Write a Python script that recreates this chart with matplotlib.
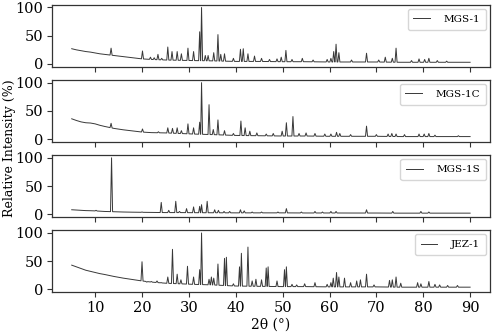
import matplotlib
matplotlib.use("Agg")
import matplotlib.pyplot as plt
import numpy as np

plt.rcParams['font.family'] = ['DejaVu Serif']

# background knots (2theta, shared) and per-sample background levels (%)
bg_x = [5, 6, 7, 8, 9, 10, 11, 12, 14, 16, 18, 20, 22, 25, 28, 31, 35,
        40, 45, 50, 55, 60, 65, 70, 75, 80, 85, 90]

samples = ["MGS-1", "MGS-1C", "MGS-1S", "JEZ-1"]

mgs1_bg = [27, 25, 23.5, 22, 21, 19.5, 18, 17, 15, 13, 11, 9, 8, 7, 6.5,
           6, 5.5, 4.5, 4.5, 4, 4, 3.5, 3.5, 3.5, 3, 3, 3, 3]
mgs1_pos = [13.4, 20.1, 21.8, 22.6, 23.4, 24.2, 25.5, 26.4, 27.5, 28.4,
            29.8, 31.0, 32.3, 32.7, 33.5, 34.1, 35.3, 36.2, 36.8, 37.6,
            39.5, 41.0, 41.6, 42.6, 44.0, 45.5, 47.2, 48.8, 49.7, 50.7,
            52.0, 54.2, 56.5, 59.5, 60.3, 60.9, 61.4, 62.0, 64.7, 67.9,
            70.5, 71.9, 73.4, 74.2, 77.5, 79.1, 80.3, 81.2, 83.0, 85.0]
mgs1_int = [28, 23, 12, 11, 17, 10, 30, 22, 22, 18,
            28, 22, 57, 100, 15, 15, 20, 52, 17, 18,
            10, 26, 27, 18, 14, 10, 8, 9, 12, 24,
            8, 10, 7, 8, 10, 22, 35, 20, 7, 19,
            7, 12, 10, 28, 6, 9, 8, 10, 6, 5]

mgs1c_bg = [36, 33, 30.5, 29, 28.5, 27, 24.5, 22.5, 19, 16.5, 14.5, 12.5,
            11.5, 11, 10, 9, 8, 6.5, 6, 5.5, 5.5, 5, 5, 5, 4.5, 4.5, 4.5, 4.5]
mgs1c_pos = [13.4, 20.1, 23.5, 25.5, 26.5, 27.5, 28.4, 29.8, 31.0, 32.3,
             32.7, 34.3, 35.2, 36.2, 37.6, 39.5, 41.1, 42.0, 43.0, 44.5,
             46.5, 48.0, 49.9, 50.8, 52.2, 53.5, 55.0, 56.9, 59.0, 60.3,
             61.5, 62.2, 64.5, 67.9, 70.0, 72.5, 73.3, 74.2, 76.0, 79.1,
             80.2, 81.2, 82.5, 87.5]
mgs1c_int = [28, 18, 13, 20, 19, 20, 15, 27, 20, 30,
             100, 61, 17, 34, 15, 10, 32, 20, 14, 11,
             9, 10, 14, 29, 40, 10, 11, 10, 9, 9,
             12, 10, 8, 23, 8, 9, 10, 9, 8, 9,
             9, 10, 7, 6]

mgs1s_bg = [8, 7.5, 7, 6.5, 6.3, 6, 5.5, 5, 4.5, 4, 3.7, 3.5, 3.3, 3, 3,
            2.8, 2.7, 2.5, 2.5, 2.5, 2.3, 2.3, 2.2, 2.2, 2, 2, 2, 2]
mgs1s_pos = [10.2, 13.5, 20.0, 24.1, 25.7, 27.2, 28.0, 29.5, 31.0, 32.3,
             32.7, 33.9, 35.5, 36.3, 37.5, 38.7, 41.0, 41.8, 43.5, 45.5,
             49.0, 50.8, 54.0, 56.9, 58.5, 60.3, 61.4, 67.9, 73.5, 79.5,
             81.2]
mgs1s_int = [7, 100, 4, 21, 7, 23, 5, 10, 13, 14,
             17, 23, 8, 7, 5, 5, 8, 6, 4, 4,
             4, 10, 4, 5, 4, 5, 5, 8, 5, 5,
             4]

jez1_bg = [43, 40, 37, 34, 32, 30, 28, 26.5, 23, 20, 17.5, 15, 13, 11, 10,
           9, 8, 6, 5.5, 5, 5, 4.5, 4.5, 4.5, 4, 4, 4, 4]
jez1_pos = [13.5, 20.0, 21.0, 22.0, 23.2, 24.1, 25.5, 26.5, 27.5, 28.3,
            29.7, 31.0, 32.3, 32.7, 34.3, 34.8, 35.3, 36.2, 37.6, 38.0,
            39.5, 40.8, 41.2, 42.6, 43.5, 44.3, 45.5, 46.5, 46.9, 48.8,
            50.4, 50.8, 52.0, 53.0, 54.7, 56.9, 59.5, 60.3, 60.8, 61.5,
            62.0, 63.2, 64.5, 65.8, 66.6, 67.9, 69.5, 72.8, 73.4, 74.2,
            75.2, 78.8, 79.5, 81.2, 82.5, 83.5, 85.2, 87.3]
jez1_int = [24, 49, 13, 14, 15, 12, 22, 71, 27, 17,
            41, 22, 35, 100, 18, 22, 20, 45, 55, 57,
            10, 40, 64, 75, 15, 18, 17, 38, 40, 15,
            35, 40, 9, 8, 10, 12, 9, 12, 20, 30,
            22, 20, 12, 15, 17, 27, 8, 16, 17, 22,
            11, 12, 10, 14, 9, 8, 7, 7]

backgrounds = [mgs1_bg, mgs1c_bg, mgs1s_bg, jez1_bg]
positions = [mgs1_pos, mgs1c_pos, mgs1s_pos, jez1_pos]
intensities = [mgs1_int, mgs1c_int, mgs1s_int, jez1_int]


def pattern(bg, pos, inten, w=0.22):
    bx = np.array(bg_x, dtype=float)
    by = np.array(bg, dtype=float)
    keep = [all(abs(x - p) > w for p in pos) for x in bx]
    xs = list(bx[keep])
    ys = list(by[keep])
    for p, top in zip(pos, inten):
        for x in (p - w, p + w):
            xs.append(x)
            ys.append(np.interp(x, bx, by))
        xs.append(p)
        ys.append(top)
    order = np.argsort(xs, kind="stable")
    return np.array(xs)[order], np.array(ys)[order]


fig, axes = plt.subplots(4, 1, sharex=True, figsize=(4.98, 3.34), dpi=100)
fig.subplots_adjust(left=0.104, right=0.984, top=0.986, bottom=0.125,
                    hspace=0.21)

for ax, name, bg, pos, inten in zip(axes, samples, backgrounds,
                                    positions, intensities):
    x, y = pattern(bg, pos, inten)
    ax.plot(x, y, color="#383838", lw=0.7, label=name)
    ax.set_ylim(-5, 105)
    ax.set_yticks([0, 50, 100])
    ax.tick_params(labelsize=10.5, length=3.5, width=0.8, color="#333333",
                   pad=2.5)
    for s in ax.spines.values():
        s.set_color("#333333")
        s.set_linewidth(0.9)
    ax.legend(loc="upper right", fontsize=7.5, handlelength=1.6,
              handletextpad=1.3, edgecolor="#cccccc", fancybox=True,
              borderpad=0.55, borderaxespad=0.4)

axes[-1].set_xticks(range(10, 100, 10))
axes[-1].set_xlabel("2θ (°)", fontsize=10, labelpad=2)
fig.text(0.019, 0.555, "Relative Intensity (%)", rotation=90,
         ha="center", va="center", fontsize=9)

plt.savefig("out.png", dpi=100)
